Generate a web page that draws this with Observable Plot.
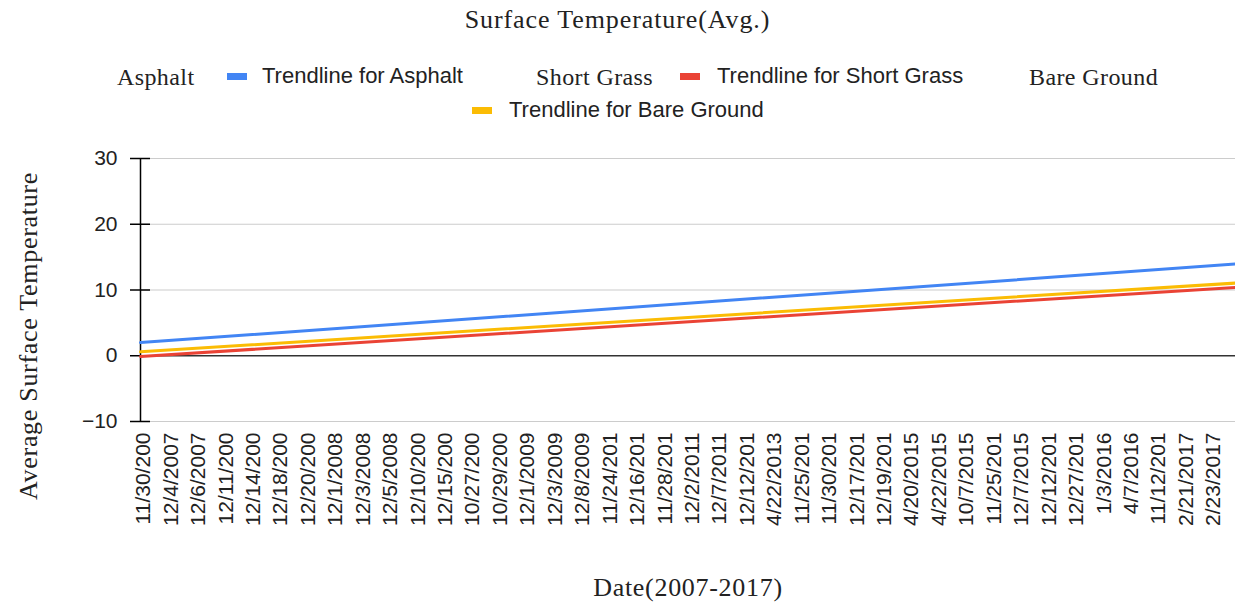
<!DOCTYPE html>
<html>
<head>
<meta charset="utf-8">
<script src="https://cdn.jsdelivr.net/npm/d3@7"></script>
<script src="https://cdn.jsdelivr.net/npm/@observablehq/plot@0.6"></script>
<style>
  html, body { margin: 0; padding: 0; background: #fff; }
  #wrap { position: relative; width: 1235px; height: 607px; overflow: hidden; }
  .serif { font-family: "Liberation Serif", "Times New Roman", serif; color: #222; font-size: 24px; letter-spacing: 0.4px; white-space: nowrap; position: absolute; line-height: 1; }
  .sans { font-family: "Liberation Sans", Arial, sans-serif; color: #222; font-size: 22px; white-space: nowrap; position: absolute; line-height: 1; }
  .sw { position: absolute; width: 20px; height: 7px; }
  #title { left: 0; width: 1235px; text-align: center; top: 7px; font-size: 26px; letter-spacing: 0.9px; }
  #chart { position: absolute; left: 0; top: 130px; }
</style>
</head>
<body>
<div id="wrap">
  <div id="title" class="serif">Surface Temperature(Avg.)</div>
  <div id="legend"></div>
  <div id="chart"></div>
</div>
<script>
// ---- data ----
const dateLabels = [
  "11/30/200", "12/4/2007", "12/6/2007", "12/11/200", "12/14/200", "12/18/200", "12/20/200",
  "12/1/2008", "12/3/2008", "12/5/2008", "12/10/200", "12/15/200", "10/27/200", "10/29/200",
  "12/1/2009", "12/3/2009", "12/8/2009", "11/24/201", "12/16/201", "11/28/201", "12/2/2011",
  "12/7/2011", "12/12/201", "4/22/2013", "11/25/201", "11/30/201", "12/17/201", "12/19/201",
  "4/20/2015", "4/22/2015", "10/7/2015", "11/25/201", "12/7/2015", "12/12/201", "12/27/201",
  "1/3/2016", "4/7/2016", "11/12/201", "2/21/2017", "2/23/2017"
];
const seriesNames = ["Asphalt", "Short Grass", "Bare Ground"];
const trendNames = ["Trendline for Asphalt", "Trendline for Short Grass", "Trendline for Bare Ground"];
const trendStart = [2.0, -0.1, 0.6];
const trendEnd = [13.95, 10.4, 11.05];
const trendColors = ["#4285f4", "#ea4335", "#fbbc04"];
const yTicks = [-10, 0, 10, 20, 30];
const xExtent = [-0.11, 39.8];

// ---- legend (HTML) ----
const legend = document.getElementById("legend");
const legendItems = [
  {type: "serif", text: seriesNames[0], left: 117, top: 65},
  {type: "sw", color: trendColors[0], left: 227, top: 73},
  {type: "sans", text: trendNames[0], left: 262, top: 65},
  {type: "serif", text: seriesNames[1], left: 536, top: 65},
  {type: "sw", color: trendColors[1], left: 680, top: 73},
  {type: "sans", text: trendNames[1], left: 717, top: 65},
  {type: "serif", text: seriesNames[2], left: 1029, top: 65},
  {type: "sw", color: trendColors[2], left: 472, top: 107},
  {type: "sans", text: trendNames[2], left: 509, top: 99}
];
for (const it of legendItems) {
  const el = document.createElement("div");
  el.className = it.type;
  el.style.left = it.left + "px";
  el.style.top = it.top + "px";
  if (it.type === "sw") el.style.background = it.color; else el.textContent = it.text;
  legend.appendChild(el);
}

// ---- trendline rows ----
const trendRows = seriesNames.flatMap((s, i) => [
  {series: trendNames[i], x: xExtent[0], y: trendStart[i]},
  {series: trendNames[i], x: xExtent[1], y: trendEnd[i]}
]);

const chart = Plot.plot({
  width: 1235,
  height: 477,
  marginLeft: 140,
  marginRight: 0,
  marginTop: 28,
  marginBottom: 186,
  style: {fontFamily: "'Liberation Sans', Arial, sans-serif", color: "#222", background: "white", overflow: "visible"},
  x: {type: "linear", domain: xExtent, axis: null},
  y: {domain: [-10, 30], axis: null},
  color: {domain: trendNames, range: trendColors},
  marks: [
    Plot.ruleY(yTicks.filter(d => d !== 0), {stroke: "#cccccc", strokeWidth: 1.2}),
    Plot.ruleY([0], {stroke: "#333333", strokeWidth: 1.6}),
    Plot.ruleX([xExtent[0]], {y1: -10, y2: 30, stroke: "#000", strokeWidth: 1.5}),
    Plot.axisY(yTicks, {tickSize: 20, dx: 10, tickPadding: 13, fontSize: 21, stroke: "#000", strokeWidth: 1.5, label: null}),
    Plot.axisX(d3.range(dateLabels.length), {
      tickSize: 0, tickPadding: 11, tickRotate: -90, fontSize: 21,
      tickFormat: i => dateLabels[i], label: null
    }),
    Plot.line(trendRows, {x: "x", y: "y", z: "series", stroke: "series", strokeWidth: 3}),
    Plot.text(["Date(2007-2017)"], {frameAnchor: "bottom", dy: 174, fontSize: 26, fontFamily: "'Liberation Serif', serif", fill: "#222"}),
    Plot.text(["Average Surface Temperature"], {frameAnchor: "left", textAnchor: "middle", dx: -112, dy: 46, rotate: -90, fontSize: 26, fontFamily: "'Liberation Serif', serif", fill: "#222"})
  ]
});
d3.select(chart).selectAll("g[aria-label='text'] text").style("letter-spacing", "0.7px");
document.getElementById("chart").appendChild(chart);
</script>
</body>
</html>
